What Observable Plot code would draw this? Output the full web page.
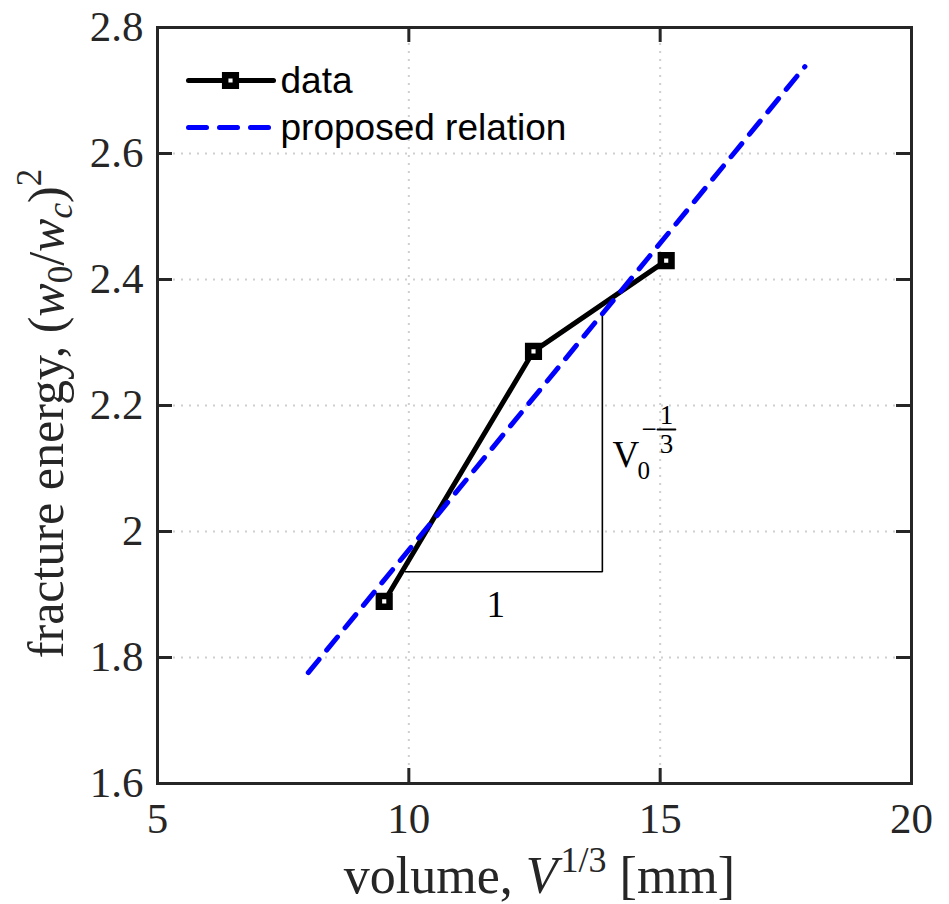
<!DOCTYPE html>
<html><head><meta charset="utf-8">
<script src="https://cdn.jsdelivr.net/npm/d3@7"></script>
<script src="https://cdn.jsdelivr.net/npm/@observablehq/plot@0.6"></script>
<style>html,body{margin:0;padding:0;background:#fff;overflow:hidden}</style>
</head><body><div id="chart"></div>
<script>
// ---- data ----
const xTicks = [5, 10, 15, 20];
const xTickLabels = ["5", "10", "15", "20"];
const yTicks = [1.6, 1.8, 2, 2.2, 2.4, 2.6, 2.8];
const yTickLabels = ["1.6", "1.8", "2", "2.2", "2.4", "2.6", "2.8"];
const dataX = [9.51, 12.48, 15.12];
const dataY = [1.889, 2.286, 2.430];
const relationX = [8.0, 17.88];
const relationY = [1.776, 2.738];
const triangleX = [9.93, 13.85, 13.85];
const triangleY = [1.936, 1.936, 2.347];
const legendLabels = ["data", "proposed relation"];
const runLabel = "1";
const runLabelAt = [11.73, 1.8635];
const riseLabelAt = [14.05, 2.1016];

// ---- build ----
const W = 949, H = 904, mL = 157, mR = 38, mT = 27, mB = 121;
const innerW = W - mL - mR, innerH = H - mT - mB;
const serif = "'Liberation Serif', 'Times New Roman', serif";
const sans = "'Liberation Sans', Arial, sans-serif";
const ink = "#262626";
const points = dataX.map((x, i) => ({x, y: dataY[i]}));
const relation = relationX.map((x, i) => ({x, y: relationY[i]}));
const triangle = triangleX.map((x, i) => ({x, y: triangleY[i]}));
const hline = {draw(ctx, l) { ctx.moveTo(0, 0); ctx.lineTo(0, -l); }};
const gridStyle = {stroke: "#cfcfcf", strokeOpacity: 1, strokeWidth: 2, strokeDasharray: "2,6"};
const tickStyle = {stroke: ink, strokeWidth: 3};
const one = [0];
const rx = () => riseLabelAt[0], ry = () => riseLabelAt[1];

const plot = Plot.plot({
  width: W, height: H,
  marginLeft: mL, marginRight: mR, marginTop: mT, marginBottom: mB,
  style: {background: "#fff", overflow: "visible"},
  x: {domain: [5, 20]},
  y: {domain: [1.6, 2.8]},
  marks: [
    Plot.gridX(xTicks, gridStyle),
    Plot.gridY(yTicks, gridStyle),
    Plot.line(triangle, {x: "x", y: "y", stroke: "black", strokeWidth: 1.6, strokeLinejoin: "miter"}),
    Plot.line(points, {x: "x", y: "y", stroke: "black", strokeWidth: 5, strokeLinejoin: "miter"}),
    Plot.dot(points, {x: "x", y: "y", symbol: "square", r: 6, stroke: "black", strokeWidth: 6.5, fill: "white"}),
    Plot.line(relation, {x: "x", y: "y", stroke: "#0000ff", strokeWidth: 5, strokeDasharray: "17,12"}),
    Plot.frame({stroke: ink, strokeWidth: 3}),
    Plot.ruleX(xTicks, {...tickStyle, insetTop: innerH - 15}),
    Plot.ruleX(xTicks, {...tickStyle, insetBottom: innerH - 15}),
    Plot.ruleY(yTicks, {...tickStyle, insetRight: innerW - 15}),
    Plot.ruleY(yTicks, {...tickStyle, insetLeft: innerW - 15}),
    Plot.axisX(xTicks, {anchor: "bottom", tickSize: 0, tickPadding: 19, label: null,
      tickFormat: d => xTickLabels[xTicks.indexOf(d)], fontSize: 43, fontFamily: serif, fill: ink, fontVariant: "normal"}),
    Plot.axisY(yTicks, {anchor: "left", tickSize: 0, tickPadding: 14, label: null,
      tickFormat: d => yTickLabels[yTicks.indexOf(d)], fontSize: 43, fontFamily: serif, fill: ink, fontVariant: "normal"}),
    // axis labels (rich text filled in below)
    Plot.text(one, {frameAnchor: "bottom", text: () => "XLABEL", dx: 5, dy: 109, lineAnchor: "bottom", textAnchor: "middle",
      fontSize: 52, fontFamily: serif, fill: ink}),
    Plot.text(one, {frameAnchor: "left", text: () => "YLABEL", rotate: -90, dx: -95, dy: 8, lineAnchor: "bottom", textAnchor: "middle",
      fontSize: 50, fontFamily: serif, fill: ink}),
    // legend
    Plot.vector(one, {frameAnchor: "top-left", dx: 31, dy: 53, length: 85, rotate: 90, anchor: "start", shape: hline,
      stroke: "black", strokeWidth: 5}),
    Plot.dot(one, {frameAnchor: "top-left", dx: 73, dy: 53, symbol: "square", r: 6, stroke: "black", strokeWidth: 6.5, fill: "white"}),
    Plot.vector(one, {frameAnchor: "top-left", dx: 31, dy: 100, length: 85, rotate: 90, anchor: "start", shape: hline,
      stroke: "#0000ff", strokeWidth: 5, strokeDasharray: "18,13"}),
    Plot.text(one, {frameAnchor: "top-left", text: () => legendLabels[0], dx: 123, dy: 65, lineAnchor: "bottom", textAnchor: "start",
      fontSize: 37, fontFamily: sans, fill: "black"}),
    Plot.text(one, {frameAnchor: "top-left", text: () => legendLabels[1], dx: 123, dy: 112, lineAnchor: "bottom", textAnchor: "start",
      fontSize: 37, fontFamily: sans, fill: "black"}),
    // triangle annotations
    Plot.text(one, {x: () => runLabelAt[0], y: () => runLabelAt[1], text: () => runLabel, lineAnchor: "bottom",
      fontSize: 37, fontFamily: serif, fill: "black"}),
    Plot.text(one, {x: rx, y: ry, text: () => "V", lineAnchor: "bottom", textAnchor: "start",
      fontSize: 37, fontFamily: serif, fill: "black"}),
    Plot.text(one, {x: rx, y: ry, text: () => "0", dx: 25, dy: 12, lineAnchor: "bottom", textAnchor: "start",
      fontSize: 25, fontFamily: serif, fill: "black"}),
    Plot.text(one, {x: rx, y: ry, text: () => "\u2212", dx: 29, dy: -29, lineAnchor: "bottom", textAnchor: "start",
      fontSize: 27, fontFamily: serif, fill: "black"}),
    Plot.text(one, {x: rx, y: ry, text: () => "1", dx: 54, dy: -43, lineAnchor: "bottom",
      fontSize: 27, fontFamily: serif, fill: "black"}),
    Plot.vector(one, {x: rx, y: ry, dx: 45, dy: -38, length: 18, rotate: 90, anchor: "start", shape: hline,
      stroke: "black", strokeWidth: 1.8}),
    Plot.text(one, {x: rx, y: ry, text: () => "3", dx: 54, dy: -14, lineAnchor: "bottom",
      fontSize: 27, fontFamily: serif, fill: "black"})
  ]
});
document.getElementById("chart").appendChild(plot);

// rich-text axis labels built from tspans
const SVGNS = "http://www.w3.org/2000/svg";
function rich(label, parts) {
  d3.select(plot).selectAll("text").filter(function() { return this.textContent === label; }).each(function() {
    this.textContent = "";
    for (const [txt, attrs] of parts) {
      const t = document.createElementNS(SVGNS, "tspan");
      t.textContent = txt;
      for (const k in attrs) t.setAttribute(k, attrs[k]);
      this.appendChild(t);
    }
  });
}
rich("XLABEL", [
  ["volume, ", {}],
  ["V", {"font-style": "italic"}],
  ["1/3", {"font-size": 36, dx: 3, dy: -21}],
  ["\u00a0[mm]", {dy: 21}]
]);
rich("YLABEL", [
  ["fracture energy, (", {}],
  ["w", {"font-style": "italic"}],
  ["0", {"font-size": 35, dy: 9}],
  ["/", {dy: -9}],
  ["w", {"font-style": "italic"}],
  ["c", {"font-size": 35, "font-style": "italic", dy: 9}],
  [")", {dy: -9}],
  ["2", {"font-size": 35, dy: -22}]
]);
</script>
</body></html>
